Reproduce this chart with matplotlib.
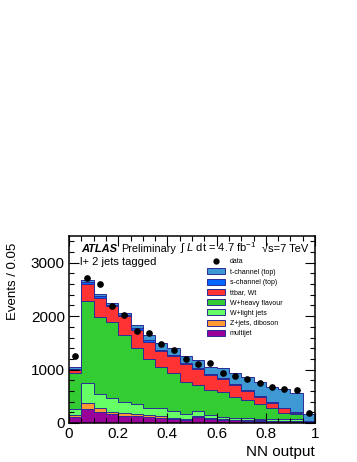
import numpy as np
import matplotlib
matplotlib.use("Agg")
import matplotlib.pyplot as plt
from matplotlib.patches import Patch
from matplotlib.lines import Line2D

plt.rcParams['font.family'] = ['Liberation Sans', 'DejaVu Sans']
plt.rcParams['mathtext.fontset'] = 'custom'
plt.rcParams['mathtext.rm'] = 'Liberation Sans'
plt.rcParams['mathtext.it'] = 'Liberation Sans:italic'

# NN output bins, width 0.05
edges = np.linspace(0, 1, 21)

# background / signal components (events per bin), bottom to top
multijet = [106, 256, 212, 162, 131, 131, 118, 88, 80, 56, 106, 69, 56, 50, 45, 40, 35, 30, 25, 5]
zjets = [44, 112, 62, 50, 50, 31, 32, 43, 20, 24, 24, 19, 13, 10, 10, 10, 10, 10, 10, 3]
wlight = [106, 385, 268, 249, 217, 193, 124, 155, 130, 88, 100, 67, 37, 40, 33, 30, 30, 30, 33, 4]
wheavy = [684, 1537, 1438, 1429, 1242, 1045, 916, 754, 700, 604, 480, 462, 479, 392, 342, 275, 199, 123, 100, 8]
ttbar = [50, 310, 360, 300, 370, 350, 330, 312, 322, 331, 293, 280, 232, 218, 170, 135, 106, 81, 25, 5]
schan = [20, 30, 30, 25, 20, 25, 25, 23, 23, 22, 22, 21, 20, 18, 15, 15, 15, 14, 12, 5]
tchan = [40, 40, 40, 40, 30, 65, 100, 115, 121, 133, 153, 135, 185, 212, 239, 255, 284, 342, 361, 138]

data = [1250, 2720, 2600, 2190, 2020, 1725, 1690, 1477, 1365, 1190, 1103, 1115, 940, 884, 817, 753, 667, 641, 617, 181]

components = [multijet, zjets, wlight, wheavy, ttbar, schan, tchan]
labels = ["multijet", "Z+jets, diboson", "W+light jets", "W+heavy flavour",
          "ttbar, Wt", "s-channel (top)", "t-channel (top)"]
colors = ["#990099", "#ff9933", "#66ff66", "#33cc33", "#ff3333", "#0066ff", "#3d98d3"]
edge = "#2b2b96"

fig = plt.figure(figsize=(3.57, 4.62), dpi=100)
ax = fig.add_axes([69/357, 1-423/462, 246/357, 187/462])

bottom = np.zeros(20)
for vals, c in zip(components, colors):
    top = bottom + np.array(vals)
    ax.stairs(top, edges, baseline=bottom, fill=True, color=c, lw=0)
    bottom = top
# outlines on top of fills
bottom = np.zeros(20)
for vals in components:
    bottom = bottom + np.array(vals)
    ax.stairs(bottom, edges, baseline=None, color=edge, lw=0.7)

centers = 0.5 * (edges[:-1] + edges[1:])
ax.plot(centers, data, 'o', color='black', ms=3.8, ls='none')

ax.set_xlim(0, 1)
ax.set_ylim(0, 3500)
ax.set_xticks([0, 0.2, 0.4, 0.6, 0.8, 1.0])
ax.set_xticklabels(["0", "0.2", "0.4", "0.6", "0.8", "1"])
ax.set_xticks(np.arange(0, 1.001, 0.05), minor=True)
ax.set_yticks([0, 1000, 2000, 3000])
ax.set_yticks(np.arange(0, 3501, 200), minor=True)
ax.tick_params(which='both', direction='in', top=True, right=True, labelsize=11, pad=3, width=0.8)
ax.tick_params(which='major', length=7)
ax.tick_params(which='minor', length=3.5)
for s in ax.spines.values():
    s.set_linewidth(1.1)

ax.set_xlabel("NN output", fontsize=11, loc='right')
ax.xaxis.set_label_coords(1.0, -0.12)
ax.set_ylabel("Events / 0.05", fontsize=9.5, loc='top')
ax.yaxis.set_label_coords(-0.205, 0.965)

# header texts
ax.text(0.05, 0.914, "ATLAS", transform=ax.transAxes, fontsize=8, fontweight='bold', style='italic')
ax.text(0.21, 0.914, "Preliminary", transform=ax.transAxes, fontsize=7.8)
ax.text(0.453, 0.914, "∫ $L$ dt = 4.7 fb$^{-1}$", transform=ax.transAxes, fontsize=8)
ax.text(0.785, 0.914, "√s=7 TeV", transform=ax.transAxes, fontsize=8)
ax.text(0.045, 0.845, "l+ 2 jets tagged", transform=ax.transAxes, fontsize=8)

handles = [Line2D([], [], marker='o', color='black', ls='none', ms=3.5)]
for lab, c in zip(labels[::-1], colors[::-1]):
    handles.append(Patch(facecolor=c, edgecolor=edge, lw=0.7))
leg = ax.legend(handles, ["data"] + labels[::-1], loc='upper left',
                bbox_to_anchor=(207/357, 1-258/462), bbox_transform=fig.transFigure,
                fontsize=5.0, frameon=False, handlelength=2.6, handleheight=0.95,
                labelspacing=0.42, handletextpad=0.7, borderpad=0, borderaxespad=0)

fig.savefig("out.png", dpi=100)
